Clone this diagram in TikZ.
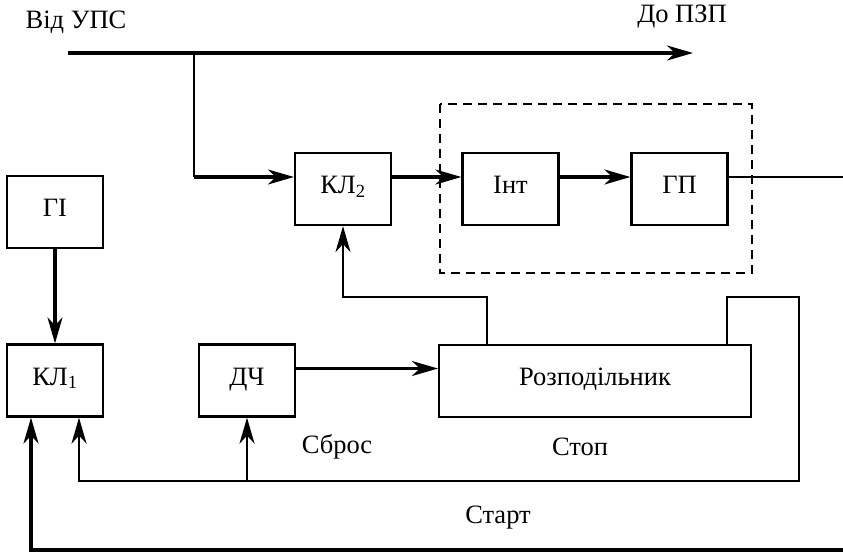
\documentclass[tikz,border=0pt]{standalone}
\usepackage{fontspec}
\setmainfont{Liberation Serif}
\usetikzlibrary{arrows.meta}

\begin{document}
\begin{tikzpicture}[x=1pt,y=-1pt,
  blok/.style={draw,line width=2.2pt,minimum width=96pt,minimum height=72pt,inner sep=0pt,text height=19pt,text depth=10pt,font=\fontsize{26.5}{30}\selectfont},
  napys/.style={font=\fontsize{26.5}{30}\selectfont},
  tovst/.style={line width=3.2pt},
  tonk/.style={line width=2.2pt},
  >={Stealth[length=26pt,width=15pt,inset=8pt]}]
          \useasboundingbox (0,0) rectangle (843,552);
          \node[blok] (kl2) at (343,189) {КЛ\textsubscript{2}};
          \node[blok] (int) at (510.5,189) {Інт};
          \node[blok] (gp) at (679.5,189) {ГП};
          \node[blok] (gi) at (55,212) {ГІ};
          \node[blok] (kl1) at (55,380.5) {КЛ\textsubscript{1}};
          \node[blok] (dch) at (247,380.5) {ДЧ};
          \node[blok, minimum width=312pt] (rozp) at (595,381) {Розподільник};
          \draw[tonk, dash pattern=on 9pt off 6pt] (440,104) rectangle (752,273);
          \node[napys] (vid) at (76,22) {Від УПС};
          \node[napys] (do) at (682,17) {До ПЗП};
          \node[napys] (sbros) at (337,447) {Сброс};
          \node[napys] (stop) at (580,447) {Стоп};
          \node[napys] (start) at (498,518) {Старт};
          \coordinate (a) at (68,53);
          \coordinate (b) at (693,53);
          \coordinate (c) at (194,53);
          \coordinate (d) at (194,177);
          \coordinate (e) at (487,297);
          \coordinate (f) at (727,297);
          \coordinate (g) at (799,481);
          \coordinate (h) at (79,481);
          \coordinate (k) at (247,481);
          \coordinate (m) at (843,550);
          \coordinate (n) at (31,550);
          \coordinate (vyh) at (843,177);
          \draw[->, tovst] (a) -- (b);
          \draw[tonk] (c) -- (d);
          \draw[->, tovst] (d) -- (d -| kl2.west);
          \draw[->, tovst] ([yshift=12pt]kl2.east) -- ([yshift=12pt]int.west);
          \draw[->, tovst] ([yshift=12pt]int.east) -- ([yshift=12pt]gp.west);
          \draw[tonk] ([yshift=12pt]gp.east) -- (vyh);
          \draw[->, tovst] (gi) -- (kl1);
          \draw[->, tovst] ([yshift=12pt]dch.east) -- ([yshift=12pt]dch.east -| rozp.west);
          \draw[->, tonk] (rozp.north -| e) -- (e) -| (kl2.south);
          \draw[->, tonk] (rozp.north -| f) -- (f) -| (g) -- (h) -- (h |- kl1.south);
          \draw[->, tonk] (k) -- (dch.south);
          \draw[->, tovst] (m) -- (n) -- (n |- kl1.south);
        \end{tikzpicture}
\end{document}
